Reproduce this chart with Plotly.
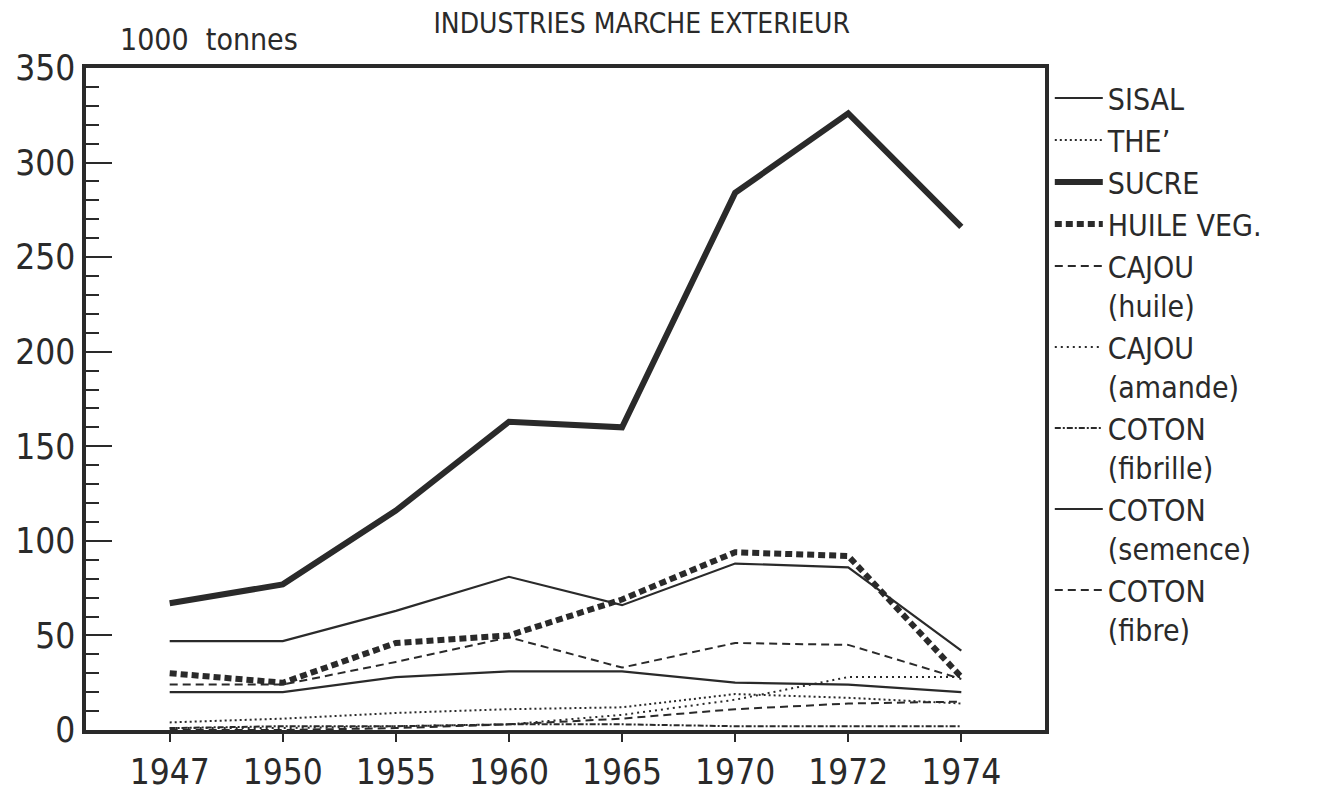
import plotly.graph_objects as go

years = ["1947", "1950", "1955", "1960", "1965", "1970", "1972", "1974"]

sisal = [20, 20, 28, 31, 31, 25, 24, 20]
the = [4, 6, 9, 11, 12, 19, 17, 14]
sucre = [67, 77, 116, 163, 160, 284, 326, 266]
huile_veg = [30, 25, 46, 50, 69, 94, 92, 28]
cajou_huile = [0, 0, 1, 3, 6, 11, 14, 15]
cajou_amande = [1, 1, 2, 3, 8, 16, 28, 28]
coton_fibrille = [1, 2, 2, 3, 3, 2, 2, 2]
coton_semence = [47, 47, 63, 81, 66, 88, 86, 42]
coton_fibre = [24, 24, 36, 49, 33, 46, 45, 27]

INK = "#2a2a2a"
FONT = "Liberation Sans Narrow, DejaVu Sans Condensed, Roboto, sans-serif"

series = [
    ("SISAL", sisal, 2.2, "solid"),
    ("THE’", the, 2, "2px,3px"),
    ("SUCRE", sucre, 6, "solid"),
    ("HUILE VEG.", huile_veg, 6, "7px,4px"),
    ("CAJOU<br>(huile)", cajou_huile, 2, "8px,5px"),
    ("CAJOU<br>(amande)", cajou_amande, 2, "2px,4px"),
    ("COTON<br>(fibrille)", coton_fibrille, 2, "6px,2px,2px,2px"),
    ("COTON<br>(semence)", coton_semence, 2.2, "solid"),
    ("COTON<br>(fibre)", coton_fibre, 2, "8px,5px"),
]

fig = go.Figure()
for name, vals, w, dash in series:
    fig.add_trace(go.Scatter(
        x=years, y=vals, mode="lines", name=name,
        line=dict(color=INK, width=w, dash=dash),
    ))

L, R, T, B = 78, 282, 60, 83
PH = 805 - T - B

fig.update_layout(
    width=1319, height=805,
    margin=dict(l=L, r=R, t=T, b=B, autoexpand=False),
    paper_bgcolor="white", plot_bgcolor="white",
    font=dict(family=FONT, color=INK, size=35),
    title=dict(
        text="INDUSTRIES MARCHE EXTERIEUR",
        xref="container", yref="container",
        x=842 / 1319, xanchor="right",
        y=1 - 15 / 805, yanchor="middle",
        font=dict(family=FONT, size=28, color=INK),
    ),
    showlegend=True,
    legend=dict(
        x=1.005, xanchor="left",
        y=1 - (64 - T) / PH, yanchor="top",
        font=dict(family=FONT, size=30, color=INK),
        valign="top",
        itemwidth=48,
        bgcolor="rgba(0,0,0,0)",
        tracegroupgap=0,
    ),
    xaxis=dict(
        type="category",
        range=[-0.74, 7.74],
        automargin=False,
        showline=True, linewidth=3.5, linecolor=INK, mirror=True,
        ticks="outside", ticklen=8, tickwidth=2, tickcolor=INK,
        tickfont=dict(family=FONT, size=35, color=INK),
        showgrid=False, zeroline=False,
    ),
    yaxis=dict(
        range=[0, 350],
        dtick=50, tick0=0,
        automargin=False,
        showline=True, linewidth=3.5, linecolor=INK, mirror=True,
        ticks="inside", ticklen=26, tickwidth=2, tickcolor=INK,
        minor=dict(dtick=10, ticks="inside", ticklen=13, tickwidth=2,
                   tickcolor=INK, showgrid=False),
        tickfont=dict(family=FONT, size=35, color=INK),
        showgrid=False, zeroline=False,
    ),
    annotations=[
        dict(
            text="1000  tonnes",
            xref="paper", yref="paper",
            x=(110 - L) / (1319 - L - R), xanchor="left",
            y=1 + (T - 32) / PH, yanchor="middle",
            showarrow=False,
            font=dict(family=FONT, size=30, color=INK),
        )
    ],
)

fig.write_html("out.html")
